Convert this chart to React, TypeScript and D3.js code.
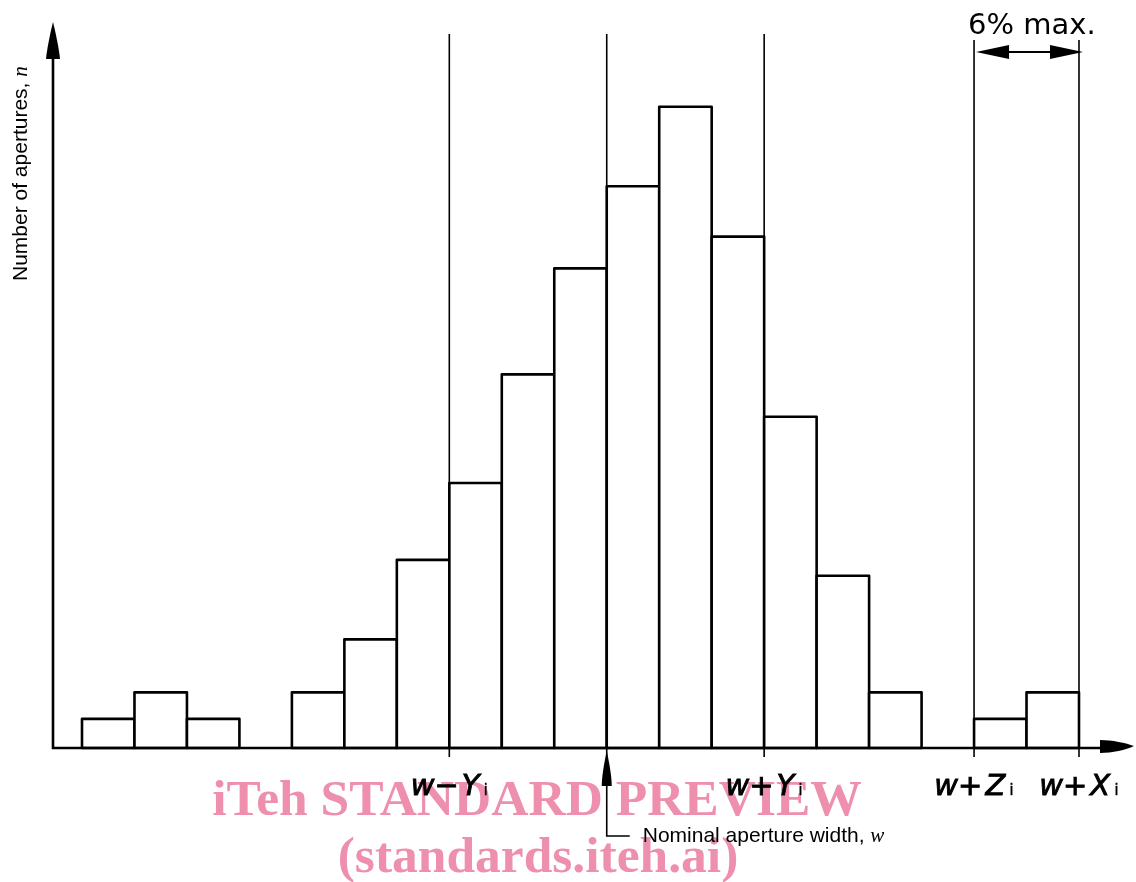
import React, { useEffect, useRef } from "react";
import * as d3 from "d3";

// Histogram bins (index along the aperture-width axis) and counts
const bins = [0, 1, 2, 3, 4, 5, 6, 7, 8, 9, 10, 11, 12, 13, 14, 15, 16, 17, 18];
const counts = [1.1, 2.1, 1.1, 0, 2.1, 4.1, 7.1, 10, 14.1, 18.1, 21.2, 24.2, 19.3, 12.5, 6.5, 2.1, 0, 1.1, 2.1];

// Marked bin edges and their labels
const markEdges = [7, 13, 17, 19];
const markMain = ["w\u2212", "w+", "w+", "w+"];
const markVar = ["Y", "Y", "Z", "X"];
const nominalEdge = 10;

const W = 1136;
const H = 882;

const App = () => {
  const ref = useRef<SVGSVGElement>(null);

  useEffect(() => {
    const svg = d3.select(ref.current);
    svg.selectAll("*").remove();

    const x = d3.scaleLinear().domain([0, 19]).range([82, 1079]);
    const y = d3.scaleLinear().domain([0, 27.4]).range([748, 22]);
    const base = y(0);
    const axisX = 53;

    // bars
    svg.append("g")
      .selectAll("rect")
      .data(bins.filter(b => counts[b] > 0))
      .join("rect")
      .attr("x", d => x(d))
      .attr("width", d => x(d + 1) - x(d))
      .attr("y", d => y(counts[d]))
      .attr("height", d => base - y(counts[d]))
      .attr("fill", "white")
      .attr("stroke", "black")
      .attr("stroke-width", 2.6)
      .attr("stroke-linejoin", "round");

    // thin reference lines
    svg.append("g")
      .selectAll("line")
      .data([7, 10, 13])
      .join("line")
      .attr("x1", d => x(d)).attr("x2", d => x(d))
      .attr("y1", 34).attr("y2", 757)
      .attr("stroke", "black").attr("stroke-width", 1.6);

    svg.append("g")
      .selectAll("line")
      .data([17, 19])
      .join("line")
      .attr("x1", d => x(d)).attr("x2", d => x(d))
      .attr("y1", 40).attr("y2", 757)
      .attr("stroke", "black").attr("stroke-width", 1.6);

    // axes
    svg.append("line")
      .attr("x1", axisX).attr("x2", axisX)
      .attr("y1", base + 1).attr("y2", 50)
      .attr("stroke", "black").attr("stroke-width", 2.6);
    svg.append("path")
      .attr("d", `M${axisX},22 C${axisX + 2},30 ${axisX + 6},48 ${axisX + 7},59 L${axisX - 7},59 C${axisX - 6},48 ${axisX - 2},30 ${axisX},22 Z`)
      .attr("fill", "black");

    svg.append("line")
      .attr("x1", axisX - 1).attr("x2", 1105)
      .attr("y1", base).attr("y2", base)
      .attr("stroke", "black").attr("stroke-width", 2.6);
    svg.append("path")
      .attr("d", `M1134,${base - 2} C1126,${base - 5} 1112,${base - 8} 1100,${base - 8} L1100,${base + 5} C1112,${base + 5} 1126,${base + 2} 1134,${base - 2} Z`)
      .attr("fill", "black");

    // 6% max dimension
    const dy = 52;
    svg.append("line")
      .attr("x1", x(17) + 30).attr("x2", x(19) - 28)
      .attr("y1", dy).attr("y2", dy)
      .attr("stroke", "black").attr("stroke-width", 1.8);
    svg.append("path")
      .attr("d", `M${x(17) + 2},${dy} L${x(17) + 35},${dy - 7} L${x(17) + 35},${dy + 7} Z`)
      .attr("fill", "black");
    svg.append("path")
      .attr("d", `M${x(19) + 4},${dy} L${x(19) - 29},${dy - 7} L${x(19) - 29},${dy + 7} Z`)
      .attr("fill", "black");
    svg.append("text")
      .attr("x", 968).attr("y", 34)
      .attr("font-family", "DejaVu Sans")
      .attr("font-size", 29)
      .text("6% max.");

    // nominal width arrow
    const nx = x(nominalEdge);
    svg.append("path")
      .attr("d", `M${nx},751 C${nx + 2},760 ${nx + 5},776 ${nx + 5},786 L${nx - 5},786 C${nx - 5},776 ${nx - 2},760 ${nx},751 Z`)
      .attr("fill", "black");
    svg.append("path")
      .attr("d", `M${nx},780 L${nx},836 L${nx + 23},836`)
      .attr("fill", "none").attr("stroke", "black").attr("stroke-width", 1.6);
    svg.append("text")
      .attr("x", nx + 36).attr("y", 842)
      .attr("font-family", "Liberation Sans, Arial, sans-serif")
      .attr("font-size", 21)
      .call(t => {
        t.append("tspan").text("Nominal aperture width, ");
        t.append("tspan").attr("font-family", "Liberation Serif, serif").attr("font-style", "italic").text("w");
      });

    // edge labels
    markEdges.forEach((e, i) => {
      const t = svg.append("text")
        .attr("x", x(e))
        .attr("y", 795)
        .attr("text-anchor", "middle")
        .attr("font-family", "DejaVu Sans")
        .attr("font-size", 29)
        .attr("stroke", "black")
        .attr("stroke-width", 0.9);
      t.append("tspan").attr("font-style", "italic").text(markMain[i]);
      t.append("tspan").attr("font-style", "italic").attr("dx", 3).text(markVar[i]);
      t.append("tspan").attr("font-size", 16).attr("stroke-width", 0.3).attr("dx", 4).text("i");
    });

    // y axis title
    svg.append("text")
      .attr("transform", "translate(27,281) rotate(-90)")
      .attr("font-family", "Liberation Sans, Arial, sans-serif")
      .attr("font-size", 21)
      .call(t => {
        t.append("tspan").text("Number of apertures, ");
        t.append("tspan").attr("font-family", "Liberation Serif, serif").attr("font-style", "italic").text("n");
      });

    // watermark, multiplied over the drawing
    const wm = svg.append("g").style("mix-blend-mode", "multiply");
    wm.append("text")
      .attr("x", 537).attr("y", 815)
      .attr("text-anchor", "middle")
      .attr("font-family", "Liberation Serif, serif")
      .attr("font-weight", "bold")
      .attr("font-size", 51.5)
      .attr("fill", "#ee8fad")
      .text("iTeh STANDARD PREVIEW");
    wm.append("text")
      .attr("x", 538).attr("y", 872)
      .attr("text-anchor", "middle")
      .attr("font-family", "Liberation Serif, serif")
      .attr("font-weight", "bold")
      .attr("font-size", 51.5)
      .attr("fill", "#ee8fad")
      .text("(standards.iteh.ai)");
  });

  return (
    <svg ref={ref} width={W} height={H} style={{ position: "absolute", left: 0, top: 0, background: "white" }} />
  );
};

export default App;
